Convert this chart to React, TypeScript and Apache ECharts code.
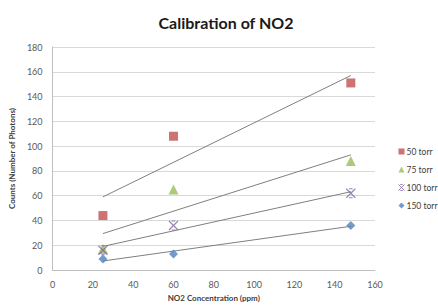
import React, { useEffect, useRef } from "react";
import * as echarts from "echarts";

const concentrations = [25, 60, 148];
const counts50 = [44, 108, 151];
const counts75 = [17, 65, 88];
const counts100 = [16, 36, 62];
const counts150 = [9, 13, 36];
const seriesNames = ["50 torr", "75 torr", "100 torr", "150 torr"];
const seriesColors = ["#c0504d", "#9bbb59", "#8064a2", "#4f81bd"];
const xTicks = [0, 20, 40, 60, 80, 100, 120, 140, 160];

const xSymbol = "path://M0,0L10,10M10,0L0,10M3,0L7,0M3,10L7,10";

function fit(xs: number[], ys: number[]): number[][] {
  const n = xs.length;
  const mx = xs.reduce((a, b) => a + b, 0) / n;
  const my = ys.reduce((a, b) => a + b, 0) / n;
  let sxx = 0;
  let sxy = 0;
  for (let i = 0; i < n; i++) {
    sxx += (xs[i] - mx) * (xs[i] - mx);
    sxy += (xs[i] - mx) * (ys[i] - my);
  }
  const b = sxy / sxx;
  const a = my - b * mx;
  const x0 = Math.min(...xs);
  const x1 = Math.max(...xs);
  return [
    [x0, a + b * x0],
    [x1, a + b * x1],
  ];
}

export default function App() {
  const ref = useRef<HTMLDivElement>(null);
  useEffect(() => {
    if (!ref.current) return;
    const chart = echarts.init(ref.current, undefined, { renderer: "svg" });
    const all = [counts50, counts75, counts100, counts150];
    const symbols = ["rect", "triangle", xSymbol, "diamond"];
    const sizes = [9, 10, 9, 9];
    const scatter = all.map((ys, i) => ({
      name: seriesNames[i],
      type: "scatter",
      symbol: symbols[i],
      symbolSize: sizes[i],
      data: concentrations.map((x, j) => [x, ys[j]]),
      itemStyle:
        i === 2
          ? { color: "rgba(0,0,0,0)", borderColor: seriesColors[i], borderWidth: 1.2 }
          : { color: seriesColors[i] },
      z: 3,
    }));
    const trends = all.map((ys) => ({
      type: "line",
      data: fit(concentrations, ys),
      showSymbol: false,
      symbol: "none",
      lineStyle: { color: "#7f7f7f", width: 1 },
      silent: true,
      z: 2,
    }));
    chart.setOption({
      animation: false,
      textStyle: { fontFamily: "Lato" },
      title: {
        text: "Calibration of NO2",
        left: 221,
        textAlign: "center",
        top: 9,
        textStyle: { fontSize: 16, fontWeight: "bold", color: "#1a1a1a", fontFamily: "Lato" },
      },
      legend: {
        data: seriesNames.map((n, i) => ({
          name: n,
          icon: symbols[i],
          itemStyle:
            i === 2
              ? { color: "rgba(0,0,0,0)", borderColor: seriesColors[i], borderWidth: 1 }
              : { color: seriesColors[i] },
        })),
        orient: "vertical",
        left: 393,
        top: 142,
        itemWidth: 6,
        itemHeight: 6,
        itemGap: 9,
        textStyle: { fontSize: 8.5, color: "#404040", fontFamily: "Lato", padding: [0, 0, 0, -3] },
      },
      grid: { left: 43, right: 63, top: 47, bottom: 36 },
      xAxis: {
        type: "value",
        min: 0,
        max: 160,
        interval: 20,
        name: "NO2 Concentration (ppm)",
        nameLocation: "middle",
        nameGap: 17,
        nameTextStyle: { fontSize: 8, fontWeight: "bold", color: "#404040" },
        axisLine: { show: true, lineStyle: { color: "#bfbfbf" } },
        axisTick: { show: false },
        splitLine: { show: false },
        axisLabel: {
          fontSize: 9,
          color: "#595959",
          margin: 10,
          formatter: (v: number) => (xTicks.includes(v) ? String(v) : ""),
        },
      },
      yAxis: {
        type: "value",
        min: 0,
        max: 180,
        interval: 20,
        name: "Counts (Number of Photons)",
        nameLocation: "middle",
        nameGap: 28,
        nameTextStyle: { fontSize: 8, fontWeight: "bold", color: "#404040" },
        axisLine: { show: true, lineStyle: { color: "#bfbfbf" } },
        axisTick: { show: false },
        splitLine: { show: true, lineStyle: { color: "#d9d9d9" } },
        axisLabel: { fontSize: 9, color: "#595959", margin: 10 },
      },
      series: [...trends, ...scatter],
    });
    return () => chart.dispose();
  }, []);
  return <div ref={ref} style={{ width: 438, height: 307, position: "absolute", left: 0, top: 0 }} />;
}
